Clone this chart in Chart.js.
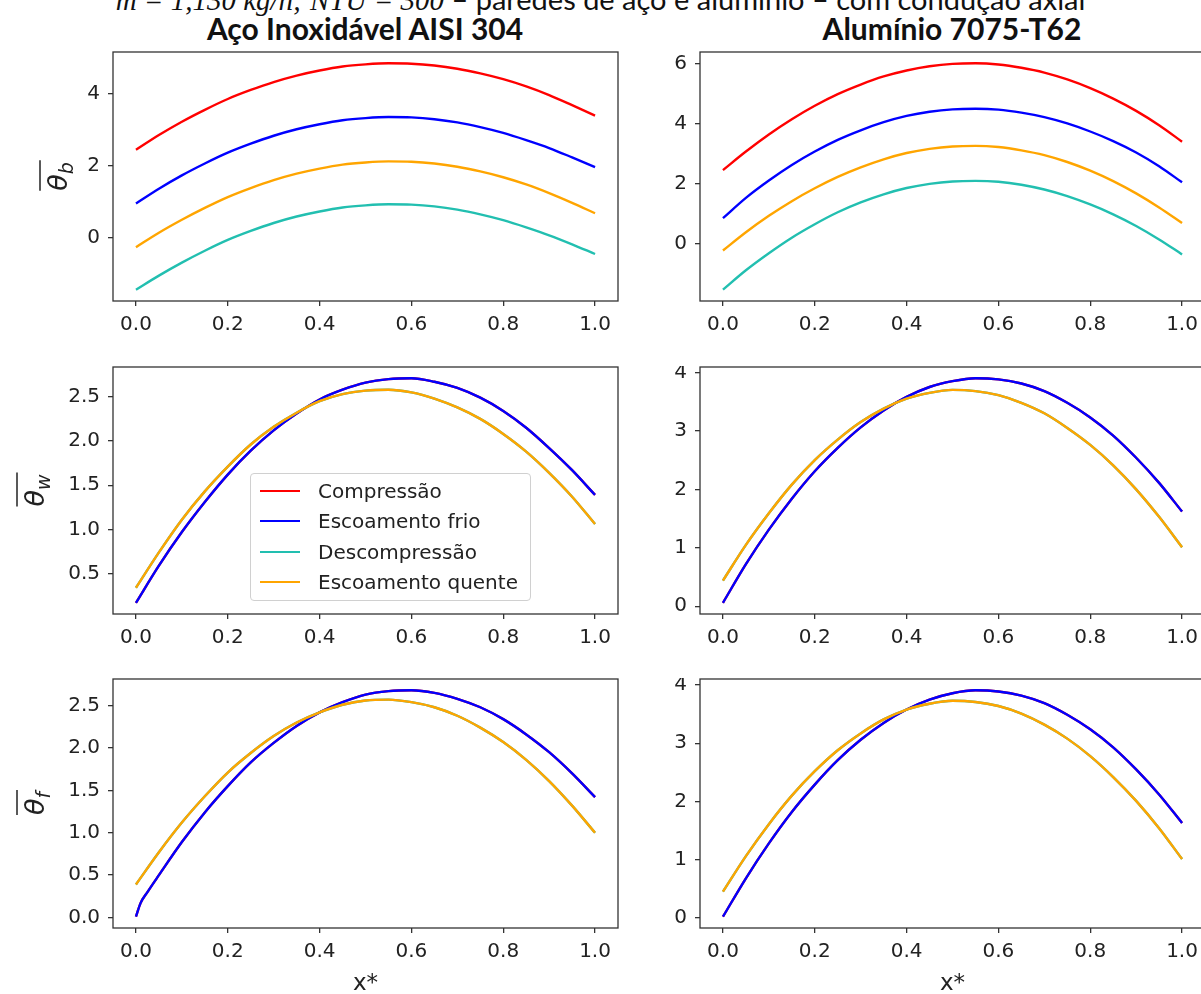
<!DOCTYPE html>
<html>
<head>
<meta charset="utf-8">
<script src="https://cdn.jsdelivr.net/npm/chart.js@4"></script>
<style>
  html, body { margin: 0; padding: 0; background: #fff; }
  #wrap { position: relative; width: 1201px; height: 994px; overflow: hidden; font-family: 'DejaVu Sans', sans-serif; }
  canvas { position: absolute; }
  .coltitle { position: absolute; top: 10px; width: 600px; text-align: center; font: bold 30px Lato, sans-serif; line-height: 36px; color: #111; }
  #hdr { position: absolute; left: 0; top: -16px; width: 1201px; text-align: center; font: 29px Lato, sans-serif; line-height: 30px; color: #111; white-space: nowrap; }
  #hdr i { font-family: 'Liberation Serif', serif; }
  #legend { position: absolute; left: 250px; top: 473px; width: 281px; height: 128px; box-sizing: border-box; padding-top: 2px;
            border: 1px solid #d0d0d0; border-radius: 4px; background: rgba(255,255,255,0.8); z-index: 5; }
  .li { height: 30.3px; display: flex; align-items: center; font-size: 20px; color: #222; }
  .li .ln { display: inline-block; width: 40px; height: 0; border-top: 2.4px solid; margin-left: 9px; margin-right: 18px; }
</style>
</head>
<body>
<div id="wrap">
  <div id="hdr"><i>ṁ = 1,130 kg/h; NTU = 300</i> – paredes de aço e alumínio – com condução axial</div>
  <div class="coltitle" style="left:65px">Aço Inoxidável AISI 304</div>
  <div class="coltitle" style="left:652px">Alumínio 7075-T62</div>

  <canvas id="c1" width="620" height="290" style="left:0;top:51px"></canvas>
  <canvas id="c2" width="600" height="290" style="left:620px;top:51px"></canvas>
  <canvas id="c3" width="620" height="288" style="left:0;top:366px"></canvas>
  <canvas id="c4" width="600" height="288" style="left:620px;top:366px"></canvas>
  <canvas id="c5" width="620" height="320" style="left:0;top:678px"></canvas>
  <canvas id="c6" width="600" height="320" style="left:620px;top:678px"></canvas>
  <div id="legend"></div>
</div>

<script>
// x* positions
const xs = [0, 0.05, 0.1, 0.15, 0.2, 0.25, 0.3, 0.35, 0.4, 0.45, 0.5, 0.55, 0.6, 0.65, 0.7, 0.75, 0.8, 0.85, 0.9, 0.95, 1.0];
const xsKink = [0, 0.01, 0.025, 0.05, 0.1, 0.15, 0.2, 0.25, 0.3, 0.35, 0.4, 0.45, 0.5, 0.55, 0.6, 0.65, 0.7, 0.75, 0.8, 0.85, 0.9, 0.95, 1.0];
const xTicks = [0, 0.2, 0.4, 0.6, 0.8, 1.0];

const series = ['Compressão', 'Escoamento frio', 'Descompressão', 'Escoamento quente'];
const colors = ['#ff0000', '#0000ff', '#22bfb0', '#ffa500'];

// theta_b  (aço / alumínio)
const acoB_comp   = [2.44, 2.85, 3.22, 3.55, 3.85, 4.10, 4.32, 4.50, 4.64, 4.75, 4.81, 4.84, 4.83, 4.78, 4.69, 4.56, 4.40, 4.20, 3.96, 3.68, 3.39];
const acoB_frio   = [0.95, 1.36, 1.73, 2.06, 2.36, 2.61, 2.83, 3.01, 3.15, 3.26, 3.32, 3.35, 3.34, 3.29, 3.20, 3.07, 2.91, 2.71, 2.49, 2.23, 1.96];
const acoB_desc   = [-1.44, -1.05, -0.69, -0.36, -0.06, 0.19, 0.41, 0.59, 0.73, 0.84, 0.90, 0.93, 0.92, 0.87, 0.78, 0.65, 0.49, 0.29, 0.07, -0.18, -0.45];
const acoB_quente = [-0.26, 0.14, 0.50, 0.83, 1.13, 1.38, 1.60, 1.78, 1.92, 2.03, 2.09, 2.12, 2.11, 2.06, 1.97, 1.84, 1.68, 1.48, 1.24, 0.97, 0.68];

const aluB_comp   = [2.45, 3.07, 3.64, 4.15, 4.60, 4.99, 5.31, 5.58, 5.78, 5.92, 6.00, 6.02, 5.98, 5.87, 5.71, 5.48, 5.19, 4.84, 4.43, 3.95, 3.40];
const aluB_frio   = [0.84, 1.52, 2.10, 2.62, 3.07, 3.46, 3.78, 4.05, 4.26, 4.40, 4.48, 4.50, 4.47, 4.37, 4.22, 4.01, 3.74, 3.42, 3.04, 2.58, 2.04];
const aluB_desc   = [-1.55, -0.90, -0.33, 0.19, 0.64, 1.04, 1.37, 1.64, 1.85, 1.99, 2.07, 2.09, 2.06, 1.96, 1.80, 1.58, 1.30, 0.97, 0.58, 0.13, -0.37];
const aluB_quente = [-0.24, 0.37, 0.92, 1.41, 1.84, 2.22, 2.54, 2.81, 3.02, 3.16, 3.24, 3.26, 3.22, 3.11, 2.95, 2.72, 2.43, 2.08, 1.67, 1.20, 0.68];

// theta_w
const acoW_frio   = [0.17, 0.59, 0.97, 1.31, 1.62, 1.89, 2.12, 2.31, 2.47, 2.58, 2.66, 2.70, 2.71, 2.67, 2.60, 2.49, 2.34, 2.15, 1.92, 1.67, 1.39];
const acoW_quente = [0.34, 0.74, 1.11, 1.43, 1.71, 1.96, 2.16, 2.32, 2.45, 2.53, 2.57, 2.58, 2.55, 2.48, 2.38, 2.25, 2.08, 1.88, 1.64, 1.37, 1.06];
const aluW_frio   = [0.06, 0.72, 1.31, 1.84, 2.31, 2.71, 3.06, 3.35, 3.58, 3.75, 3.85, 3.90, 3.88, 3.81, 3.68, 3.48, 3.23, 2.92, 2.54, 2.11, 1.62];
const aluW_quente = [0.44, 1.05, 1.59, 2.08, 2.50, 2.85, 3.15, 3.38, 3.55, 3.65, 3.70, 3.68, 3.61, 3.48, 3.30, 3.05, 2.76, 2.41, 2.00, 1.53, 1.01];

// theta_f
const acoF_frio   = [0.01, 0.17, 0.30, 0.50, 0.89, 1.24, 1.55, 1.83, 2.06, 2.26, 2.42, 2.54, 2.63, 2.67, 2.68, 2.65, 2.58, 2.48, 2.34, 2.16, 1.95, 1.70, 1.42];
const acoF_quente = [0.39, 0.77, 1.12, 1.43, 1.71, 1.94, 2.14, 2.30, 2.42, 2.51, 2.56, 2.57, 2.54, 2.48, 2.38, 2.24, 2.07, 1.86, 1.61, 1.32, 1.00];
const aluF_frio   = [0.02, 0.68, 1.28, 1.82, 2.29, 2.71, 3.06, 3.35, 3.58, 3.75, 3.86, 3.91, 3.89, 3.82, 3.69, 3.49, 3.24, 2.93, 2.55, 2.12, 1.63];
const aluF_quente = [0.45, 1.06, 1.61, 2.10, 2.52, 2.88, 3.17, 3.41, 3.58, 3.68, 3.73, 3.71, 3.64, 3.51, 3.32, 3.08, 2.78, 2.42, 2.01, 1.54, 1.01];

// y tick labels
const yTicksAcoB = [0, 2, 4];
const yTicksAluB = [0, 2, 4, 6];
const yTicksAcoW = [0.5, 1.0, 1.5, 2.0, 2.5];
const yTicksAluW = [0, 1, 2, 3, 4];
const yTicksAcoF = [0.0, 0.5, 1.0, 1.5, 2.0, 2.5];
const yTicksAluF = [0, 1, 2, 3, 4];

Chart.defaults.font.family = "'DejaVu Sans', sans-serif";

// matplotlib-like box round the axes
const frame = {
  id: 'frame',
  afterDatasetsDraw(chart) {
    const a = chart.chartArea, c = chart.ctx;
    c.save();
    c.strokeStyle = '#333';
    c.lineWidth = 1.3;
    c.strokeRect(a.left, a.top, a.right - a.left, a.bottom - a.top);
    c.restore();
  }
};

// overlined theta with subscript, rotated
const ylab = {
  id: 'ylab',
  afterDraw(chart, args, o) {
    if (!o || !o.sub) return;
    const a = chart.chartArea, c = chart.ctx;
    const yc = (a.top + a.bottom) / 2;
    c.save();
    c.translate(o.x, yc);
    c.rotate(-Math.PI / 2);
    c.fillStyle = '#222';
    c.textBaseline = 'alphabetic';
    c.font = 'italic 27px "DejaVu Sans"';
    const w1 = c.measureText('θ').width;
    c.font = 'italic 19px "DejaVu Sans"';
    const w2 = c.measureText(o.sub).width;
    const u = -(w1 + w2) / 2;
    c.font = 'italic 27px "DejaVu Sans"';
    c.fillText('θ', u, 0);
    c.font = 'italic 19px "DejaVu Sans"';
    c.fillText(o.sub, u + w1, 6);
    c.strokeStyle = '#222';
    c.lineWidth = 1.5;
    c.beginPath();
    c.moveTo(u, -27);
    c.lineTo(u + w1 + w2 + 2, -27);
    c.stroke();
    c.restore();
  }
};

function four(xc, comp, frio, desc, quente, xf) {
  const xFrio = xf || xc;
  return [
    { label: series[0], color: colors[0], x: xFrio, y: comp,   order: 4 },
    { label: series[1], color: colors[1], x: xFrio, y: frio,   order: 3 },
    { label: series[2], color: colors[2], x: xc,    y: desc,   order: 2 },
    { label: series[3], color: colors[3], x: xc,    y: quente, order: 1 }
  ];
}

function noPad(s) {
  s.paddingTop = 0; s.paddingBottom = 0; s.paddingLeft = 0; s.paddingRight = 0;
}

function panel(id, sets, yTicks, dec, cfg) {
  const all = sets.flatMap(s => s.y);
  const lo = Math.min(...all), hi = Math.max(...all);
  const m = (hi - lo) * 0.05;
  return new Chart(document.getElementById(id), {
    type: 'line',
    data: {
      datasets: sets.map(s => ({
        label: s.label,
        data: s.y.map((v, i) => ({ x: s.x[i], y: v })),
        borderColor: s.color,
        backgroundColor: s.color,
        borderWidth: 2.4,
        pointRadius: 0,
        cubicInterpolationMode: 'monotone',
        fill: false,
        order: s.order
      }))
    },
    options: {
      responsive: false,
      animation: false,
      events: [],
      layout: { padding: { top: 1, left: 0, right: cfg.right, bottom: 0 } },
      plugins: { legend: { display: false }, tooltip: { enabled: false }, ylab: cfg.ylab || {} },
      scales: {
        x: {
          type: 'linear', min: -0.05, max: 1.05,
          afterBuildTicks: s => { s.ticks = xTicks.map(v => ({ value: v })); },
          afterFit: s => { s.height = cfg.xh; noPad(s); },
          ticks: { callback: v => v.toFixed(1), padding: 7, color: '#222', font: { size: 20 }, maxRotation: 0, autoSkip: false },
          grid: { drawOnChartArea: false, drawTicks: true, tickLength: 5, color: '#333', lineWidth: 1.3 },
          border: { display: false },
          title: cfg.xtitle
            ? { display: true, text: 'x*', color: '#222', font: { size: 23 }, padding: { top: 0, bottom: 0 } }
            : { display: false }
        },
        y: {
          type: 'linear', min: lo - m, max: hi + m,
          afterBuildTicks: s => { s.ticks = yTicks.map(v => ({ value: v })); },
          afterFit: s => { s.width = cfg.yw; noPad(s); },
          ticks: { callback: v => dec ? v.toFixed(1) : String(v), padding: 8, color: '#222', font: { size: 20 }, autoSkip: false },
          grid: { drawOnChartArea: false, drawTicks: true, tickLength: 5, color: '#333', lineWidth: 1.3 },
          border: { display: false }
        }
      }
    },
    plugins: [frame, ylab]
  });
}

panel('c1', four(xs, acoB_comp, acoB_frio, acoB_desc, acoB_quente), yTicksAcoB, false,
      { right: 2, yw: 113, xh: 40, ylab: { sub: 'b', x: 67 } });
panel('c2', four(xs, aluB_comp, aluB_frio, aluB_desc, aluB_quente), yTicksAluB, false,
      { right: 15, yw: 80, xh: 40 });
panel('c3', four(xs, acoW_frio, acoW_frio, acoW_quente, acoW_quente), yTicksAcoW, true,
      { right: 2, yw: 113, xh: 40, ylab: { sub: 'w', x: 44 } });
panel('c4', four(xs, aluW_frio, aluW_frio, aluW_quente, aluW_quente), yTicksAluW, false,
      { right: 15, yw: 80, xh: 40 });
panel('c5', four(xs, acoF_frio, acoF_frio, acoF_quente, acoF_quente, xsKink), yTicksAcoF, true,
      { right: 2, yw: 113, xh: 70, xtitle: true, ylab: { sub: 'f', x: 44 } });
panel('c6', four(xs, aluF_frio, aluF_frio, aluF_quente, aluF_quente), yTicksAluF, false,
      { right: 15, yw: 80, xh: 70, xtitle: true });

// legend of the middle-left panel
const legend = document.getElementById('legend');
series.forEach((name, i) => {
  const row = document.createElement('div');
  row.className = 'li';
  const ln = document.createElement('span');
  ln.className = 'ln';
  ln.style.borderTopColor = colors[i];
  row.appendChild(ln);
  row.appendChild(document.createTextNode(name));
  legend.appendChild(row);
});
</script>
</body>
</html>
